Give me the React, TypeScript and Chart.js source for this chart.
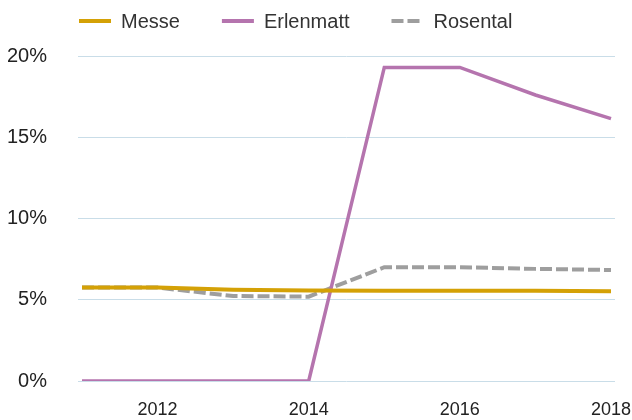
import React, { useEffect, useRef } from "react";
import { Chart, registerables } from "chart.js";

Chart.register(...registerables);

const years = [2011, 2012, 2013, 2014, 2015, 2016, 2017, 2018];
const tickYears = [2012, 2014, 2016, 2018];
const yTicks = [0, 5, 10, 15, 20];
const seriesNames = ["Messe", "Erlenmatt", "Rosental"];
const messe = [5.75, 5.75, 5.62, 5.57, 5.55, 5.55, 5.55, 5.53];
const erlenmatt = [0, 0, 0, 0, 19.3, 19.3, 17.6, 16.15];
const rosental = [5.75, 5.75, 5.23, 5.19, 7.0, 7.0, 6.9, 6.83];

const FONT = "'Liberation Sans', Arial, sans-serif";

const legendPlugin = {
  id: "customLegend",
  afterDraw(chart: any) {
    const ctx = chart.ctx;
    ctx.save();
    ctx.font = `20px ${FONT}`;
    ctx.textBaseline = "middle";
    let x = 79;
    const y = 21;
    chart.data.datasets.forEach((ds: any) => {
      ctx.beginPath();
      ctx.strokeStyle = ds.borderColor;
      ctx.lineWidth = 4;
      ctx.setLineDash(ds.borderDash || []);
      ctx.moveTo(x, y);
      ctx.lineTo(x + 32, y);
      ctx.stroke();
      ctx.setLineDash([]);
      x += 42;
      ctx.fillStyle = "#333333";
      ctx.fillText(ds.label, x, y + 1);
      x += ctx.measureText(ds.label).width + 42;
    });
    ctx.restore();
  },
};

export default function App() {
  const ref = useRef<HTMLCanvasElement | null>(null);
  useEffect(() => {
    document.body.style.margin = "0";
    const toPts = (arr: number[]) => arr.map((v, i) => ({ x: years[i], y: v }));
    const chart = new Chart(ref.current as HTMLCanvasElement, {
      type: "line",
      data: {
        datasets: [
          {
            label: seriesNames[0],
            data: toPts(messe),
            borderColor: "#D4A106",
            borderWidth: 4,
            pointRadius: 0,
            tension: 0,
          },
          {
            label: seriesNames[1],
            data: toPts(erlenmatt),
            borderColor: "#B574AE",
            borderWidth: 3.5,
            pointRadius: 0,
            tension: 0,
          },
          {
            label: seriesNames[2],
            data: toPts(rosental),
            borderColor: "#9E9E9E",
            borderWidth: 4,
            borderDash: [12, 4],
            pointRadius: 0,
            tension: 0,
          },
        ],
      },
      options: {
        animation: false,
        responsive: false,
        layout: { padding: { top: 56, right: 17, left: 0, bottom: 0 } },
        plugins: { legend: { display: false }, tooltip: { enabled: false } },
        scales: {
          x: {
            type: "linear",
            min: 2010.947,
            max: 2018.053,
            afterBuildTicks: (scale: any) => {
              scale.ticks = tickYears.map((v) => ({ value: v }));
            },
            afterFit: (scale: any) => {
              scale.height = 39;
              scale.paddingLeft = 0;
              scale.paddingRight = 0;
            },
            grid: { display: false, drawTicks: false },
            border: { display: false },
            ticks: {
              autoSkip: false,
              maxRotation: 0,
              padding: 18,
              color: "#222222",
              font: { family: FONT, size: 18 },
              callback: (v: any) => String(v),
            },
          },
          y: {
            min: 0,
            max: 20,
            afterBuildTicks: (scale: any) => {
              scale.ticks = yTicks.map((v) => ({ value: v }));
            },
            afterFit: (scale: any) => {
              scale.width = 78;
              scale.paddingTop = 0;
              scale.paddingBottom = 0;
            },
            grid: { color: "#C9DDE8", lineWidth: 1, drawTicks: false },
            border: { display: false },
            ticks: {
              padding: 31,
              color: "#222222",
              font: { family: FONT, size: 20 },
              callback: (v: any) => v + "%",
            },
          },
        },
      },
      plugins: [legendPlugin],
    });
    return () => chart.destroy();
  }, []);
  return (
    <div style={{ width: 632, height: 420 }}>
      <canvas ref={ref} width={632} height={420} style={{ display: "block" }} />
    </div>
  );
}
